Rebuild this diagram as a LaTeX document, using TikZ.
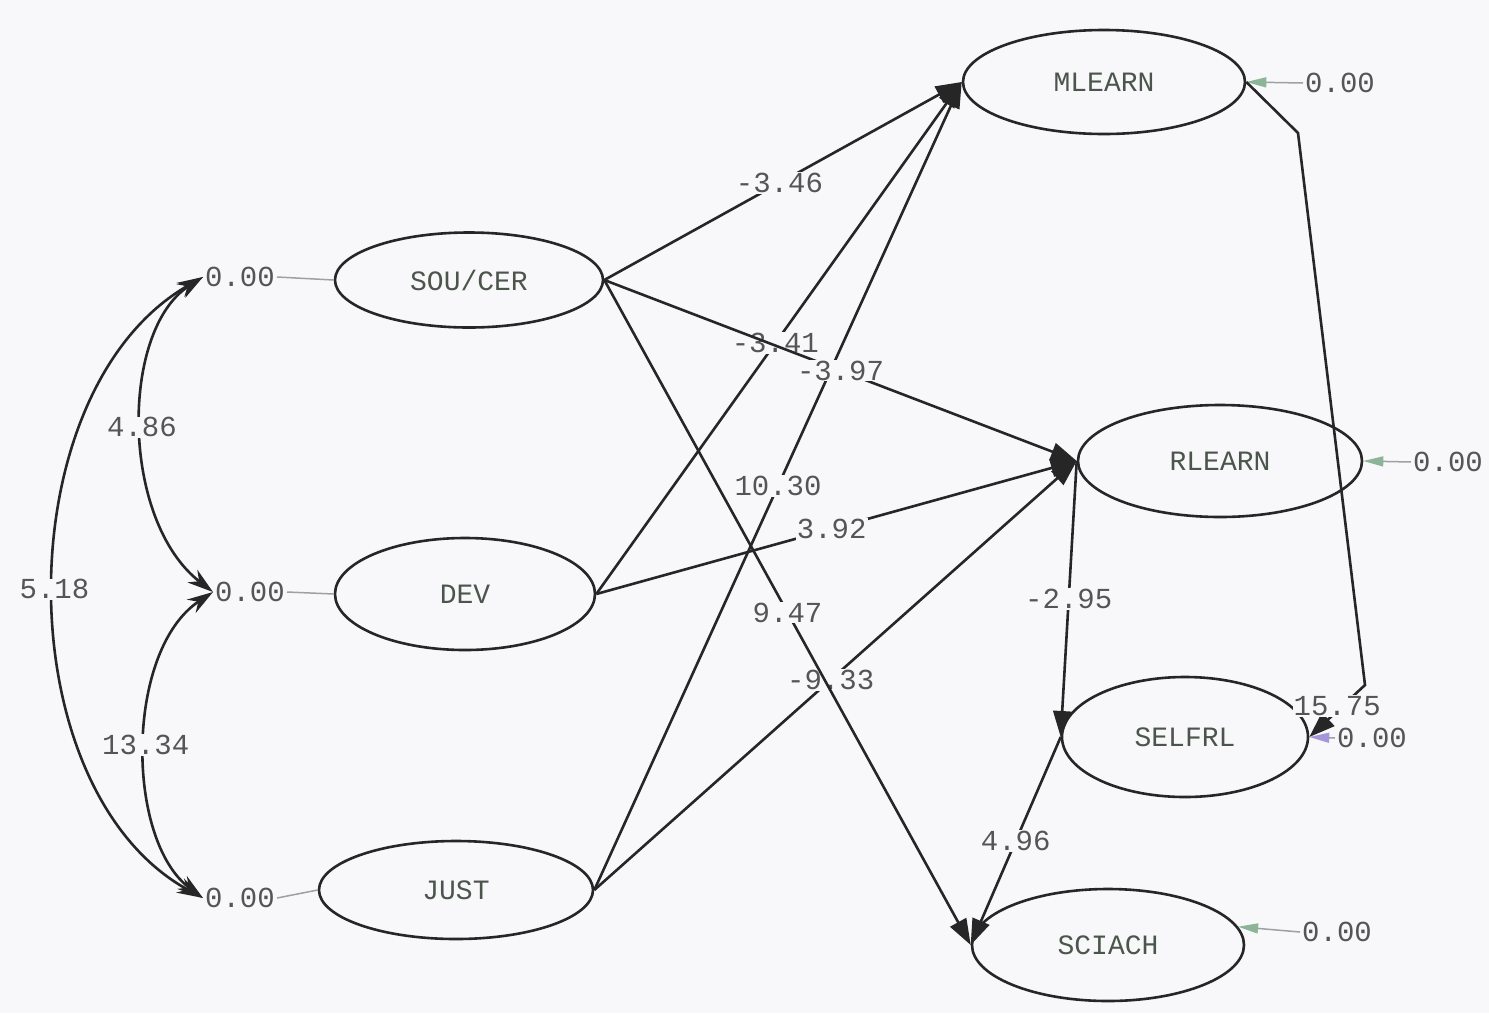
\documentclass[tikz,border=0pt]{standalone}
\usepackage{fontspec}
\setmonofont{Liberation Mono}
\usetikzlibrary{shapes.geometric,arrows.meta}
\definecolor{bg}{RGB}{248,248,250}
\definecolor{txt}{RGB}{85,85,85}
\definecolor{nametxt}{RGB}{75,85,75}
\definecolor{errgreen}{RGB}{140,180,150}
\definecolor{errpurple}{RGB}{165,150,220}
\definecolor{errline}{RGB}{160,160,160}
\begin{document}
\begin{tikzpicture}[x=1pt,y=-1pt,
  lv/.style={ellipse,draw=black!85,line width=2.6pt,inner sep=0pt,
    font=\ttfamily\fontsize{28}{28}\selectfont,text=nametxt},
  num/.style={font=\ttfamily\fontsize{29}{29}\selectfont,text=txt,inner sep=2pt},
  lab/.style={num,fill=bg,inner sep=1pt},
  pth/.style={line width=2.6pt,draw=black!85,-{Triangle[length=26pt,width=18pt]}},
  cov/.style={line width=2.6pt,draw=black!85,{Stealth[length=26pt,width=16pt]}-{Stealth[length=26pt,width=16pt]}},
  errl/.style={line width=1.5pt,draw=errline},
  erra/.style={line width=1.5pt,draw=errline,-{Triangle[length=20pt,width=10pt,color=#1,fill=#1]}},
]
\fill[bg] (0,0) rectangle (1489,1013);
\useasboundingbox (0,0) rectangle (1489,1013);

% latent variables
\node[lv,minimum width=268pt,minimum height=95pt] (sou) at (469,280) {SOU/CER};
\node[lv,minimum width=260pt,minimum height=112pt] (dev) at (465,594) {DEV};
\node[lv,minimum width=274pt,minimum height=98pt] (just) at (456,890) {JUST};
\node[lv,minimum width=282pt,minimum height=104pt] (ml) at (1104,82) {MLEARN};
\node[lv,minimum width=284pt,minimum height=112pt] (rl) at (1220,461) {RLEARN};
\node[lv,minimum width=246pt,minimum height=120pt] (se) at (1185,737) {SELFRL};
\node[lv,minimum width=272pt,minimum height=112pt] (sa) at (1108,945) {SCIACH};

% left error terms
\node[num] (e1) at (240,277) {0.00};
\node[num] (e2) at (250,592) {0.00};
\node[num] (e3) at (240,898) {0.00};
\draw[errl] (e1.east) -- (sou.west);
\draw[errl] (e2.east) -- (dev.west);
\draw[errl] (e3.east) -- (just.west);

% covariances
\draw[cov] (e1.west) .. controls (120,330) and (120,520) .. (e2.west)
  node[lab,pos=0.5] {4.86};
\draw[cov] (e2.west) .. controls (125,650) and (125,840) .. (e3.west)
  node[lab,pos=0.5] {13.34};
\draw[cov] (e1.west) .. controls (5,390) and (5,790) .. (e3.west)
  node[lab,pos=0.5] {5.18};

% right error terms
\node[num] (r1) at (1340,83) {0.00};
\node[num] (r2) at (1448,462) {0.00};
\node[num] (r3) at (1372,738) {0.00};
\node[num] (r4) at (1337,932) {0.00};
\draw[erra=errgreen] (r1.west) -- (ml.east);
\draw[erra=errgreen] (r2.west) -- (rl.east);
\draw[erra=errgreen] (r4.west) -- (sa.8);

% structural paths
\draw[pth] (sou.east) -- (ml.west) node[lab,pos=0.49] {-3.46};
\draw[pth] (dev.east) -- (ml.west) node[lab,pos=0.49] {-3.41};
\draw[pth] (just.east) -- (ml.west) node[lab,pos=0.5] {10.30};
\draw[pth] (sou.east) -- (rl.west) node[lab,pos=0.5] {-3.97};
\draw[pth] (dev.east) -- (rl.west) node[lab,pos=0.49] {3.92};
\draw[pth] (just.east) -- (rl.west) node[lab,pos=0.49] {-9.33};
\draw[pth] (sou.east) -- (sa.west) node[lab,pos=0.5] {9.47};
\draw[pth] (rl.west) -- (se.west) node[lab,pos=0.5] {-2.95};
\draw[pth] (se.west) -- (sa.west) node[lab,pos=0.5] {4.96};

\coordinate (k1) at (1298,133);
\coordinate (k2) at (1365,685);
\draw[erra=errpurple] (r3.west) -- (se.east);
\draw[pth] (ml.east) -- (k1) -- (k2) -- (se.east) node[lab,pos=0.5,yshift=5pt] {15.75};
\end{tikzpicture}
\end{document}
